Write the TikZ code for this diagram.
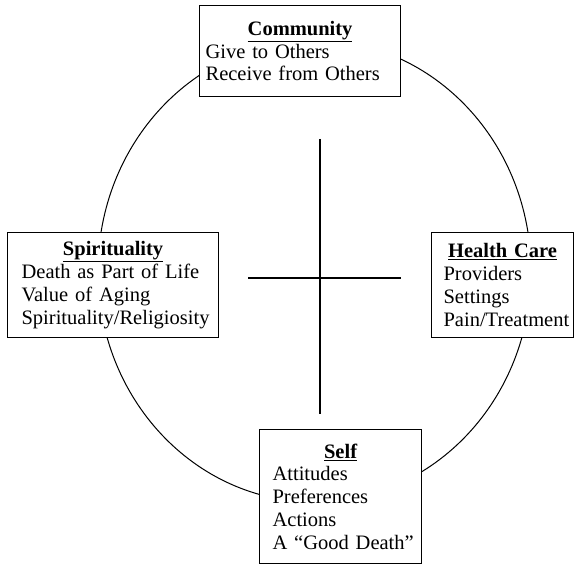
\documentclass[tikz,border=0pt]{standalone}
\usepackage{fontspec}
\setmainfont{Liberation Serif}
\usepackage{tikz}

\newcommand{\boxtitle}[1]{\makebox[\linewidth]{\textbf{\underline{#1}}}}

\begin{document}
\begin{tikzpicture}[x=1pt, y=-1pt,
	area/.style={draw, fill=white, line width=1.2pt, align=left, anchor=north west,
		font=\fontsize{20.5}{22.8}\selectfont}]
	\useasboundingbox (0,0) rectangle (574,567);

	% outer ring
	\draw[line width=1pt] (314.5,271) ellipse [x radius=216.5, y radius=231];

	% cross
	\coordinate (top) at (320,139);
	\coordinate (bottom) at (320,414);
	\coordinate (left) at (248,278);
	\coordinate (right) at (401,278);
	\draw[line width=1.4pt] (top) -- (bottom);
	\draw[line width=1.4pt] (left) -- (right);

	% community
	\node[area, text width=189pt, inner xsep=6pt, minimum height=91pt] (community) at (199,5)
		{\boxtitle{Community}\\Give to Others\\Receive from Others};
	% spirituality
	\node[area, text width=183pt, inner xsep=14pt, minimum height=105pt] (spirituality) at (7,232)
		{\boxtitle{Spirituality}\\Death as Part of Life\\Value of Aging\\Spirituality/Religiosity};
	% health care
	\node[area, text width=118pt, inner xsep=12pt, minimum height=105pt] (health) at (431,232)
		{\boxtitle{Health Care}\\Providers\\Settings\\Pain/Treatment};
	% self
	\node[area, text width=136pt, inner xsep=13pt, minimum height=134pt] (self) at (259,429)
		{\boxtitle{Self}\\Attitudes\\Preferences\\Actions\\\mbox{A “Good Death”}};
\end{tikzpicture}
\end{document}
